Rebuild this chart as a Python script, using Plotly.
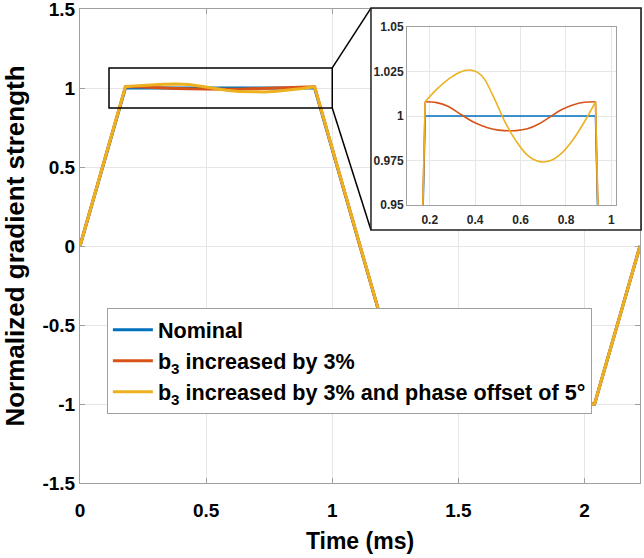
import plotly.graph_objects as go

# ---------------- data ----------------
t_nominal = [0.0, 0.18, 0.93, 1.11, 1.29, 2.04, 2.22]
g_nominal = [0.0, 1.0, 1.0, 0.0, -1.0, -1.0, 0.0]

t_flat = [0.18, 0.23, 0.28, 0.33, 0.38, 0.43, 0.48, 0.53,
          0.58, 0.63, 0.68, 0.73, 0.78, 0.83, 0.88, 0.93]
g_b3_flat = [1.0080, 1.0075, 1.0055, 1.0015, 0.9975, 0.9945, 0.9926, 0.9918,
             0.9918, 0.9928, 0.9955, 0.9995, 1.0035, 1.0062, 1.0077, 1.0080]
g_b3_phase_flat = [1.0080, 1.0150, 1.0205, 1.0245, 1.0258, 1.0225, 1.0110, 0.9970,
                   0.9860, 0.9780, 0.9745, 0.9748, 0.9790, 0.9865, 0.9965, 1.0080]

t_head = [0.0]
g_head = [0.0]
t_tail = [1.11, 1.29, 2.04, 2.22]
g_tail = [0.0, -1.0, -1.0, 0.0]

series_names = ["Nominal", "b<sub>3</sub> increased by 3%",
                "b<sub>3</sub> increased by 3% and phase offset of 5°"]
series_colors = ["#0072BD", "#D95319", "#EDB120"]

x_ticks = [0, 0.5, 1, 1.5, 2]
x_ticktext = ["0", "0.5", "1", "1.5", "2"]
y_ticks = [-1.5, -1, -0.5, 0, 0.5, 1, 1.5]
y_ticktext = ["-1.5", "-1", "-0.5", "0", "0.5", "1", "1.5"]
inset_x_ticks = [0.2, 0.4, 0.6, 0.8, 1.0]
inset_x_ticktext = ["0.2", "0.4", "0.6", "0.8", "1"]
inset_y_ticks = [0.95, 0.975, 1.0, 1.025, 1.05]
inset_y_ticktext = ["0.95", "0.975", "1", "1.025", "1.05"]

x_range = [0, 2.22]
y_range = [-1.5, 1.5]
inset_x_range = [0.1, 1.02]
inset_y_range = [0.95, 1.05]
zoom_box = dict(x0=0.115, x1=1.0, y0=0.873, y1=1.127)

# ---------------- build series ----------------
t_full = t_head + t_flat + t_tail
g_b3 = g_head + g_b3_flat + g_tail
g_b3_phase = g_head + g_b3_phase_flat + g_tail
all_series = [(t_nominal, g_nominal), (t_full, g_b3), (t_full, g_b3_phase)]
flat_series = [None, g_b3_flat, g_b3_phase_flat]

FONT = "Liberation Sans, Arial, sans-serif"
fig = go.Figure()

for (tx, gy), name, col in zip(all_series, series_names, series_colors):
    fig.add_trace(go.Scatter(x=tx, y=gy, mode="lines", name=name,
                             line=dict(color=col, width=3),
                             xaxis="x", yaxis="y"))

# white backing box for the inset (its own overlapping subplot)
fig.add_trace(go.Scatter(x=[None], y=[None], mode="lines", showlegend=False,
                         hoverinfo="skip", xaxis="x2", yaxis="y2"))

# inset traces: linear ramps, smooth flat-top
for (tx, gy), flat, col in zip(all_series, flat_series, series_colors):
    if flat is None:
        fig.add_trace(go.Scatter(x=tx, y=gy, mode="lines", showlegend=False,
                                 line=dict(color=col, width=1.6),
                                 xaxis="x3", yaxis="y3"))
        continue
    fig.add_trace(go.Scatter(x=t_head + t_flat[:1], y=g_head + flat[:1], mode="lines",
                             showlegend=False, line=dict(color=col, width=1.6),
                             xaxis="x3", yaxis="y3"))
    fig.add_trace(go.Scatter(x=t_flat, y=flat, mode="lines", showlegend=False,
                             line=dict(color=col, width=1.6, shape="spline", smoothing=1),
                             xaxis="x3", yaxis="y3"))
    fig.add_trace(go.Scatter(x=t_flat[-1:] + t_tail[:1], y=flat[-1:] + g_tail[:1],
                             mode="lines", showlegend=False,
                             line=dict(color=col, width=1.6),
                             xaxis="x3", yaxis="y3"))

GRID = "#e6e6e6"
AXL = "#a0a0a0"

box_x0, box_x1, box_y0, box_y1 = 0.5196, 1.0, 0.5338, 1.0

fig.update_layout(
    width=644, height=558,
    margin=dict(l=80, r=4, t=9, b=75),
    paper_bgcolor="white", plot_bgcolor="white",
    font=dict(family=FONT, color="black"),
    xaxis=dict(domain=[0, 1], range=x_range, tickvals=x_ticks, ticktext=x_ticktext,
               automargin=False, ticklabeloverflow="allow",
               showgrid=True, gridcolor=GRID, zeroline=False,
               showline=True, linecolor=AXL, linewidth=1, mirror="ticks",
               ticks="inside", ticklen=5, tickcolor=AXL, ticklabelstandoff=10,
               tickfont=dict(size=19, weight="bold", color="black"),
               title=dict(text="Time (ms)", font=dict(size=23, weight="bold"), standoff=13)),
    yaxis=dict(domain=[0, 1], range=y_range, tickvals=y_ticks, ticktext=y_ticktext,
               automargin=False, ticklabeloverflow="allow",
               showgrid=True, gridcolor=GRID, zeroline=False,
               showline=True, linecolor=AXL, linewidth=1, mirror="ticks",
               ticks="inside", ticklen=5, tickcolor=AXL,
               tickfont=dict(size=19, weight="bold", color="black"),
               title=dict(text="Normalized gradient strength",
                          font=dict(size=26, weight="bold"), standoff=20)),
    xaxis2=dict(domain=[box_x0, box_x1], anchor="y2", visible=False, range=[0, 1],
                automargin=False),
    yaxis2=dict(domain=[box_y0, box_y1], anchor="x2", visible=False, range=[0, 1],
                automargin=False),
    xaxis3=dict(domain=[0.584, 0.957], anchor="y3", range=inset_x_range,
                automargin=False, ticklabeloverflow="allow",
                tickvals=inset_x_ticks, ticktext=inset_x_ticktext,
                showgrid=True, gridcolor=GRID, zeroline=False,
                showline=True, linecolor=AXL, linewidth=1, mirror=True, ticks="",
                ticklabelstandoff=4,
                tickfont=dict(size=12, weight="bold", color="#262626")),
    yaxis3=dict(domain=[0.5865, 0.962], anchor="x3", range=inset_y_range,
                automargin=False, ticklabeloverflow="allow",
                tickvals=inset_y_ticks, ticktext=inset_y_ticktext,
                showgrid=True, gridcolor=GRID, zeroline=False,
                showline=True, linecolor=AXL, linewidth=1, mirror=True, ticks="",
                tickfont=dict(size=12, weight="bold", color="#262626")),
    legend=dict(x=0.048, y=0.369, xanchor="left", yanchor="top",
                bgcolor="white", bordercolor="#a0a0a0", borderwidth=1,
                font=dict(size=21.6, weight="bold", color="black"),
                itemwidth=40, tracegroupgap=0),
    showlegend=True,
)

# zoom rectangle on the main axes
fig.add_shape(type="rect", xref="x", yref="y", layer="above",
              line=dict(color="black", width=1.5), fillcolor="rgba(0,0,0,0)", **zoom_box)


def px(v):
    return (v - x_range[0]) / (x_range[1] - x_range[0])


def py(v):
    return (v - y_range[0]) / (y_range[1] - y_range[0])


fig.add_shape(type="line", xref="paper", yref="paper", layer="above",
              x0=px(zoom_box["x1"]), y0=py(zoom_box["y1"]), x1=box_x0, y1=1.002,
              line=dict(color="black", width=1.5))
fig.add_shape(type="line", xref="paper", yref="paper", layer="above",
              x0=px(zoom_box["x1"]), y0=py(zoom_box["y0"]), x1=box_x0, y1=box_y0,
              line=dict(color="black", width=1.5))
fig.add_shape(type="rect", xref="paper", yref="paper", layer="above",
              x0=box_x0, x1=1.002, y0=box_y0, y1=1.002,
              line=dict(color="#222222", width=1.5), fillcolor="rgba(0,0,0,0)")

fig.write_html("out.html", config={"displayModeBar": False},
               post_script="document.body.style.margin='0px';document.body.style.padding='0px';")
